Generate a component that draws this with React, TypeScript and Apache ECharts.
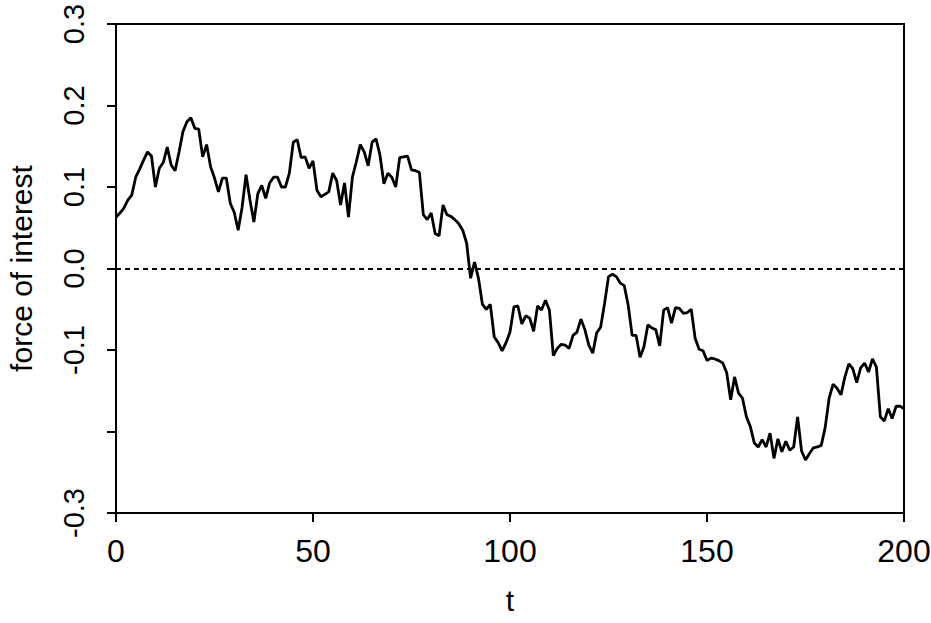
import React, { useEffect, useRef } from "react";
import * as echarts from "echarts";

const tValues: number[] = Array.from({ length: 201 }, (_, i) => i);
const forceValues: number[] = [
  0.063, 0.068, 0.074, 0.084, 0.09, 0.112, 0.122, 0.133, 0.143, 0.138,
  0.10, 0.123, 0.13, 0.149, 0.127, 0.12, 0.143, 0.168, 0.18, 0.185,
  0.172, 0.171, 0.137, 0.152, 0.125, 0.111, 0.094, 0.111, 0.111, 0.08,
  0.069, 0.047, 0.075, 0.115, 0.084, 0.057, 0.092, 0.102, 0.086, 0.105,
  0.112, 0.112, 0.10, 0.10, 0.117, 0.155, 0.158, 0.136, 0.137, 0.123,
  0.132, 0.096, 0.088, 0.091, 0.094, 0.117, 0.108, 0.078, 0.105, 0.063,
  0.112, 0.131, 0.152, 0.143, 0.126, 0.155, 0.159, 0.139, 0.104, 0.117,
  0.112, 0.10, 0.136, 0.137, 0.138, 0.121, 0.12, 0.118, 0.066, 0.06,
  0.068, 0.043, 0.04, 0.078, 0.066, 0.064, 0.06, 0.055, 0.047, 0.031,
  -0.012, 0.008, -0.012, -0.044, -0.05, -0.044, -0.084, -0.091, -0.101, -0.091,
  -0.078, -0.047, -0.046, -0.068, -0.058, -0.061, -0.077, -0.046, -0.051, -0.039,
  -0.051, -0.107, -0.098, -0.093, -0.094, -0.098, -0.082, -0.078, -0.062, -0.075,
  -0.094, -0.104, -0.079, -0.072, -0.043, -0.01, -0.007, -0.01, -0.018, -0.021,
  -0.045, -0.082, -0.082, -0.109, -0.096, -0.069, -0.073, -0.075, -0.095, -0.051,
  -0.048, -0.067, -0.048, -0.049, -0.055, -0.054, -0.05, -0.086, -0.099, -0.101,
  -0.113, -0.11, -0.111, -0.113, -0.116, -0.128, -0.161, -0.133, -0.153, -0.159,
  -0.182, -0.194, -0.214, -0.219, -0.21, -0.219, -0.202, -0.233, -0.209, -0.225,
  -0.212, -0.223, -0.219, -0.182, -0.224, -0.235, -0.227, -0.22, -0.219, -0.217,
  -0.195, -0.159, -0.142, -0.147, -0.155, -0.133, -0.117, -0.123, -0.14, -0.122,
  -0.116, -0.127, -0.111, -0.121, -0.182, -0.187, -0.172, -0.184, -0.169, -0.169,
  -0.172,
];
const yTickLabels: Record<string, string> = {
  "0.3": "0.3",
  "0.2": "0.2",
  "0.1": "0.1",
  "0": "0.0",
  "-0.1": "-0.1",
  "-0.2": "",
  "-0.3": "-0.3",
};

const FONT = '"Liberation Sans Narrow", "Liberation Sans", Arial, sans-serif';

export default function App() {
  const ref = useRef<HTMLDivElement>(null);
  useEffect(() => {
    document.body.style.margin = "0";
    if (!ref.current) return;
    const chart = echarts.init(ref.current, null, { renderer: "svg" });
    const data = tValues.map((t, i) => [t, forceValues[i]]);
    chart.setOption({
      animation: false,
      backgroundColor: "#ffffff",
      grid: {
        left: 116,
        right: 27,
        top: 24,
        bottom: 110,
        containLabel: false,
        outerBoundsMode: "none",
        show: true,
        borderColor: "#000",
        borderWidth: 2,
        backgroundColor: "transparent",
      },
      xAxis: {
        type: "value",
        min: 0,
        max: 200,
        interval: 50,
        name: "t",
        nameLocation: "middle",
        nameGap: 72,
        nameTextStyle: { fontFamily: FONT, fontSize: 30, color: "#000" },
        axisLine: { show: true, onZero: false, lineStyle: { color: "#000", width: 2 } },
        axisTick: { show: true, inside: false, length: 9, lineStyle: { color: "#000", width: 2 } },
        axisLabel: { fontFamily: FONT, fontSize: 32, color: "#000", margin: 22 },
        splitLine: { show: false },
      },
      yAxis: {
        type: "value",
        min: -0.3,
        max: 0.3,
        interval: 0.1,
        name: "force of interest",
        nameLocation: "middle",
        nameGap: 80,
        nameTextStyle: { fontFamily: FONT, fontSize: 30, color: "#000" },
        axisLine: { show: true, onZero: false, lineStyle: { color: "#000", width: 2 } },
        axisTick: { show: true, inside: false, length: 9, lineStyle: { color: "#000", width: 2 } },
        axisLabel: {
          fontFamily: FONT,
          fontSize: 29,
          color: "#000",
          rotate: 90,
          margin: 28,
          formatter: (v: number) => {
            const key = String(Math.round(v * 10) / 10);
            return yTickLabels[key] ?? "";
          },
        },
        splitLine: { show: false },
      },
      series: [
        {
          type: "line",
          data,
          symbol: "none",
          lineStyle: { color: "#000", width: 2.8 },
          markLine: {
            silent: true,
            symbol: "none",
            label: { show: false },
            lineStyle: { color: "#000", width: 2, type: [5, 4] },
            data: [{ yAxis: 0 }],
          },
        },
      ],
    });
    return () => chart.dispose();
  }, []);
  return <div ref={ref} style={{ width: 931, height: 623 }} />;
}
